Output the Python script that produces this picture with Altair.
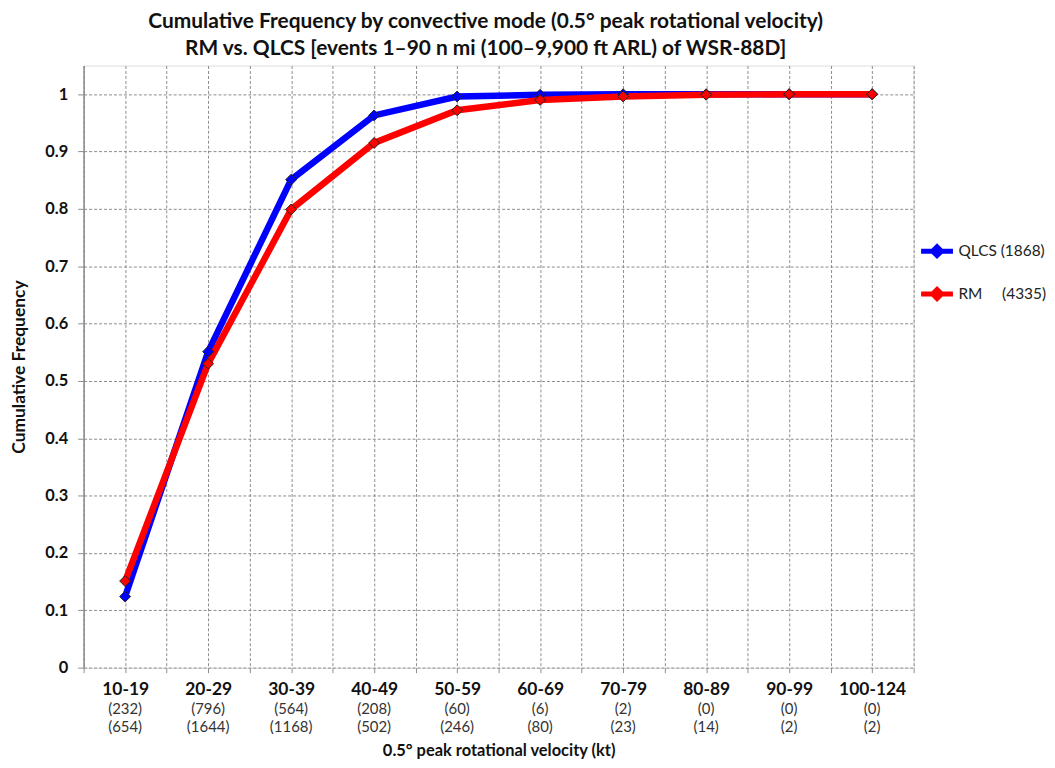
import altair as alt
import pandas as pd
import json

categories = ["10-19", "20-29", "30-39", "40-49", "50-59", "60-69", "70-79", "80-89", "90-99", "100-124"]
qlcs_counts = ["(232)", "(796)", "(564)", "(208)", "(60)", "(6)", "(2)", "(0)", "(0)", "(0)"]
rm_counts = ["(654)", "(1644)", "(1168)", "(502)", "(246)", "(80)", "(23)", "(14)", "(2)", "(2)"]
qlcs_cf = [0.124, 0.551, 0.851, 0.963, 0.996, 0.999, 1.0, 1.0, 1.0, 1.0]
rm_cf = [0.151, 0.530, 0.799, 0.915, 0.972, 0.990, 0.996, 0.999, 1.0, 1.0]
series_names = ["QLCS (1868)", "RM\u00a0\u00a0\u00a0\u00a0\u00a0(4335)"]
series_colors = ["#0000ff", "#ff0000"]

rows = []
for s, vals in zip(series_names, [qlcs_cf, rm_cf]):
    for i, (c, v) in enumerate(zip(categories, vals)):
        rows.append({"idx": i + 1, "cat": c, "series": s, "cf": v})
df = pd.DataFrame(rows)

lab = pd.DataFrame({"idx": list(range(1, len(categories) + 1)),
                    "q": qlcs_counts, "r": rm_counts})

W, H = 834, 605
FONT = "Lato"
cat_expr = json.dumps(categories).replace('"', "'")
xscale = alt.Scale(domain=[0.5, len(categories) + 0.5], nice=False, zero=False)

x = alt.X("idx:Q", scale=xscale,
          axis=alt.Axis(values=[0.5 + 0.5 * k for k in range(2 * len(categories) + 1)],
                        labelExpr=f"datum.value % 1 == 0 ? {cat_expr}[datum.value - 1] : ''",
                        title="0.5\u00b0 peak rotational velocity (kt)",
                        titlePadding=45, labelPadding=8, tickSize=5,
                        labelFontSize=17.5, labelFontWeight="bold", labelColor="#111",
                        labelOverlap=False, labelFlush=False,
                        titleFontSize=16.5, titleFontWeight="bold", titleColor="#111",
                        domain=False, gridDash=[3, 2], gridColor="#8c8c8c",
                        tickColor="#8c8c8c"))
y = alt.Y("cf:Q",
          scale=alt.Scale(domain=[0, 1.05], nice=False),
          axis=alt.Axis(values=[k / 10 for k in range(11)], format="~g",
                        title="Cumulative Frequency", titlePadding=16,
                        labelPadding=10, tickSize=6,
                        labelFontSize=16.5, labelFontWeight="bold", labelColor="#111",
                        titleFontSize=17.5, titleFontWeight="bold", titleColor="#111",
                        domain=True, domainColor="#8c8c8c", domainWidth=1.5,
                        gridDash=[3, 2], gridColor="#8c8c8c", tickColor="#8c8c8c"))

color_scale = alt.Scale(domain=series_names, range=series_colors)

lines = alt.Chart(df).mark_line(strokeWidth=6.5).encode(
    x=x, y=y,
    color=alt.Color("series:N", scale=color_scale, sort=series_names,
                    legend=alt.Legend(title=None, orient="none", legendX=839, legendY=168,
                                      symbolType="M-1,0L-0.28,0M0.28,0L1,0M0,-0.28L0.28,0L0,0.28L-0.28,0Z",
                                      symbolSize=1024, symbolStrokeWidth=5,
                                      labelFont=FONT, labelFontSize=15.5, labelColor="#222",
                                      rowPadding=10, labelOffset=3)),
    detail="series:N",
)

points = alt.Chart(df).mark_point(shape="diamond", filled=True, size=120,
                                  stroke="#222", strokeWidth=1, opacity=1).encode(
    x=x, y=y,
    fill=alt.Fill("series:N", scale=color_scale, legend=None),
)

t1 = alt.Chart(lab).mark_text(fontSize=15, font=FONT, color="#333", baseline="middle").encode(
    x=alt.X("idx:Q", scale=xscale), y=alt.value(H + 42), text="q:N")
t2 = alt.Chart(lab).mark_text(fontSize=15, font=FONT, color="#333", baseline="middle").encode(
    x=alt.X("idx:Q", scale=xscale), y=alt.value(H + 60), text="r:N")

chart = alt.layer(lines, points, t1, t2).properties(
    width=W, height=H,
    padding={"left": 2, "top": 1, "right": 0, "bottom": 0},
    title=alt.Title(["Cumulative Frequency by convective mode (0.5\u00b0 peak rotational velocity)",
                     "RM vs. QLCS [events 1\u201390 n mi (100\u20139,900 ft ARL) of WSR-88D]"],
                    font=FONT, fontSize=21, fontWeight="bold", color="#111",
                    anchor="middle", lineHeight=27, offset=7, dx=-13),
).configure_view(fill="#f0f0f0", stroke=None).configure(font=FONT)

chart.save("out.html", embed_options={"renderer": "svg", "actions": False})
